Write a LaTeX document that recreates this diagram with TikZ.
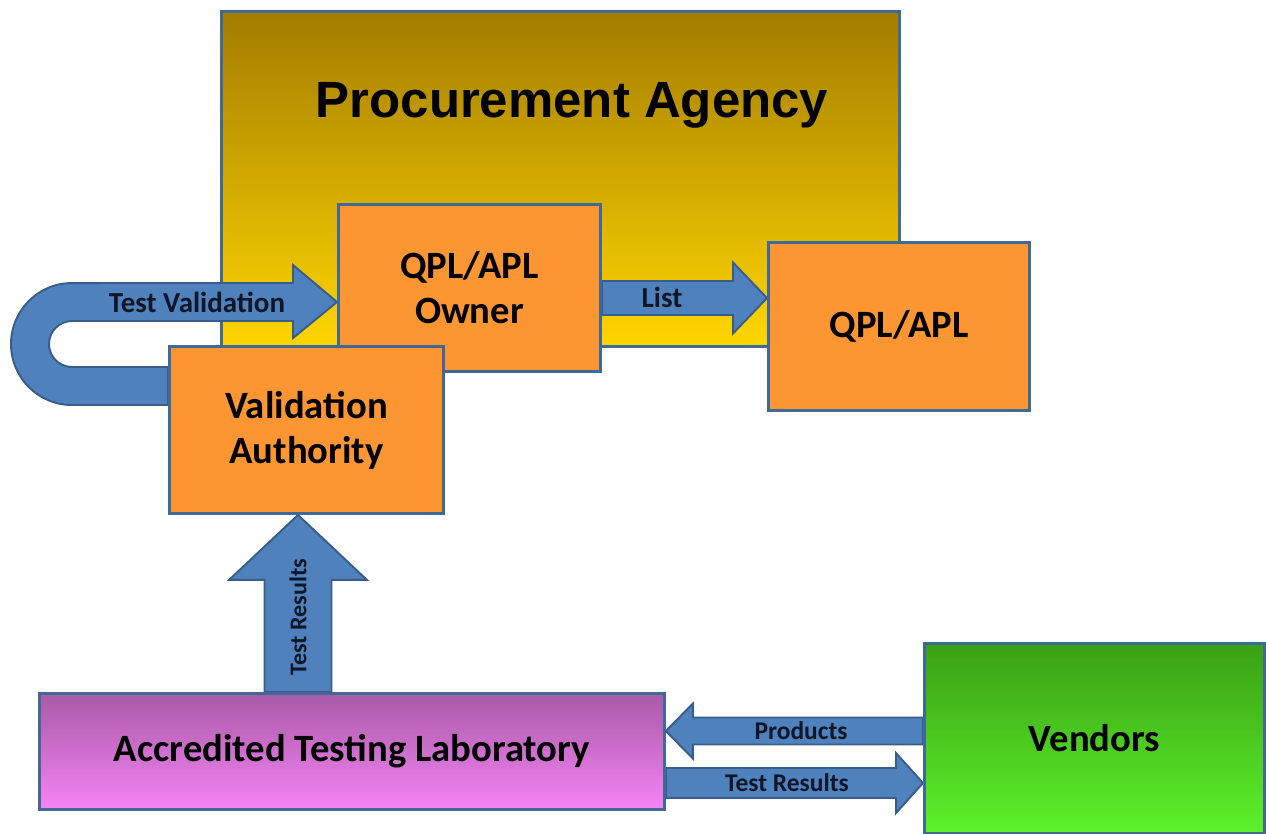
\documentclass[tikz,border=0pt]{standalone}
\usepackage{fontspec}
\setmainfont{Carlito}
\newfontfamily\arialf{Liberation Sans}
\usetikzlibrary{calc}
\pgfdeclarelayer{bg}
\pgfdeclarelayer{arr}
\pgfsetlayers{bg,arr,main}
\definecolor{arrowblue}{RGB}{79,129,189}
\definecolor{arrowedge}{RGB}{56,93,138}
\definecolor{boxedge}{RGB}{65,105,150}
\definecolor{boxorange}{RGB}{252,150,50}
\definecolor{patop}{RGB}{163,124,0}
\definecolor{pabot}{RGB}{255,214,0}
\definecolor{atltop}{RGB}{168,90,168}
\definecolor{atlbot}{RGB}{245,132,245}
\definecolor{vtop}{RGB}{58,160,20}
\definecolor{vbot}{RGB}{92,242,42}
\definecolor{labelink}{RGB}{15,22,40}
\newcommand\blockarrow[6]{%
  \coordinate (baH) at ($(#3)!#6!(#2)$);
  \draw[#1] ($(#2)!#4!90:(#3)$) -- ($(baH)!#4!90:(#3)$) -- ($(baH)!#5!90:(#3)$) -- (#3)
    -- ($(baH)!#5!-90:(#3)$) -- ($(baH)!#4!-90:(#3)$) -- ($(#2)!#4!-90:(#3)$) -- cycle;}
\begin{document}
\begin{tikzpicture}[x=0.02cm,y=-0.02cm,
  box/.style={draw=boxedge, line width=1.7pt, inner sep=0pt, anchor=north west, align=center,
    font=\bfseries\fontsize{22}{25.6}\selectfont},
  orangebox/.style={box, fill=boxorange},
  barrow/.style={fill=arrowblue, draw=arrowedge, line width=1.1pt, line join=miter},
  alabel/.style={font=\bfseries\fontsize{16.5}{18}\selectfont, inner sep=0pt, text=labelink},
  slabel/.style={font=\bfseries\fontsize{14.5}{16}\selectfont, inner sep=0pt, text=labelink}]
\useasboundingbox (0,0) rectangle (1266,833);
\begin{pgfonlayer}{bg}
\node[box, minimum width=13.56cm, minimum height=6.7cm, top color=patop, bottom color=pabot] (pa) at (220,10) {};
\end{pgfonlayer}
\node[font=\arialf\bfseries\fontsize{29}{32}\selectfont, anchor=base] (patitle) at (572,117) {Procurement Agency};
\node[orangebox, minimum width=5.24cm, minimum height=3.34cm] (owner) at (337,203) {QPL/APL\\Owner};
\node[orangebox, minimum width=5.48cm, minimum height=3.34cm] (va) at (168,345) {Validation\\Authority};
\node[orangebox, minimum width=5.22cm, minimum height=3.36cm] (qpl) at (767,241) {QPL/APL};
\node[box, minimum width=12.5cm, minimum height=2.32cm, top color=atltop, bottom color=atlbot,
  font=\bfseries\fontsize{22}{25}\selectfont] (atl) at (38,692) {Accredited Testing Laboratory};
\node[box, minimum width=6.8cm, minimum height=3.8cm, top color=vtop, bottom color=vbot] (vendors) at (923,642) {Vendors};
\begin{pgfonlayer}{arr}
\draw[barrow] (va.west |- 0,405) -- (72,405) arc[start angle=270,end angle=90,radius=1.22cm]
  -- (293,283) -- (293,265) -- (owner.west |- 0,302) -- (293,338) -- (293,321) -- (72,321)
  arc[start angle=90,end angle=270,radius=0.46cm] -- (va.west |- 0,367) -- cycle;
\coordinate (listS) at (owner.east |- 0,298);
\coordinate (listE) at (qpl.west |- 0,298);
\blockarrow{barrow}{listS}{listE}{0.34cm}{0.71cm}{0.68cm}
\coordinate (trvS) at (298,0 |- atl.north);
\coordinate (trvE) at (298,0 |- va.south);
\blockarrow{barrow}{trvS}{trvE}{0.67cm}{1.38cm}{1.3cm}
\coordinate (prS) at (vendors.west |- 0,731);
\coordinate (prE) at (atl.east |- 0,731);
\blockarrow{barrow}{prS}{prE}{0.27cm}{0.55cm}{0.54cm}
\coordinate (trhS) at (atl.east |- 0,783);
\coordinate (trhE) at (vendors.west |- 0,783);
\blockarrow{barrow}{trhS}{trhE}{0.3cm}{0.6cm}{0.54cm}
\end{pgfonlayer}
\node[alabel] (tvlabel) at (197,302) {Test Validation};
\node[alabel] (listlabel) at (662,297) {List};
\node[slabel] (prlabel) at (801,731) {Products};
\node[slabel] (trhlabel) at (787,783) {Test Results};
\node[slabel, font=\bfseries\fontsize{13.7}{15}\selectfont, rotate=90] (trvlabel) at (298,617) {Test Results};
\end{tikzpicture}
\end{document}
